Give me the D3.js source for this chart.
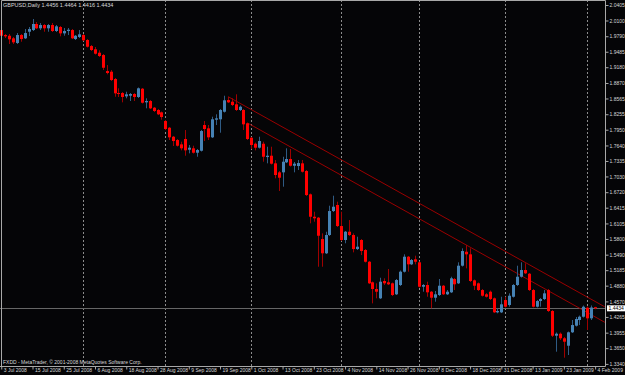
<!DOCTYPE html>
<meta charset="utf-8">
<script src="https://d3js.org/d3.v7.min.js"></script>
<style>
  body { margin: 0; background: #000; }
  svg { display: block; }
  text { font-family: "Liberation Sans", Arial, sans-serif; fill: #d8d8d8; }
</style>
<body>
<svg id="chart" width="625" height="375"></svg>
<script>
// GBPUSD daily bars, 3 Jul 2008 .. 4 Feb 2009
var symbol = "GBPUSD,Daily";
var footer = "FXDD - MetaTrader, \u00a9 2001-2008 MetaQuotes Software Corp.";

var opens = [1.9912,1.9814,1.9800,1.9749,1.9657,1.9814,1.9749,1.9879,1.9912,2.0031,
  1.9946,2.0011,1.9946,2.0011,1.9893,1.9972,1.9847,1.9893,1.9912,1.9735,
  1.9775,1.9814,1.9716,1.9597,1.9533,1.9466,1.9420,1.9105,1.9092,1.8948,
  1.8672,1.8672,1.8607,1.8619,1.8653,1.8594,1.8757,1.8489,1.8515,1.8383,
  1.8338,1.8292,1.8121,1.7989,1.7812,1.7747,1.7662,1.7767,1.7556,1.7584,
  1.7497,1.7536,1.8042,1.7977,1.7800,1.8147,1.8155,1.8304,1.8534,1.8501,
  1.8450,1.8338,1.8338,1.8076,1.7792,1.7674,1.7596,1.7674,1.7412,1.7438,
  1.7288,1.7111,1.7111,1.7308,1.7373,1.7241,1.7235,1.7288,1.7137,1.6678,
  1.6237,1.6218,1.5798,1.5517,1.5877,1.6349,1.6468,1.6054,1.5779,1.5942,
  1.5877,1.5601,1.5779,1.5582,1.5351,1.4946,1.4814,1.4631,1.4972,1.4946,
  1.4926,1.4710,1.4893,1.5155,1.5450,1.5300,1.5399,1.5340,1.4859,1.4893,
  1.4761,1.4643,1.4696,1.4879,1.4710,1.4749,1.5011,1.4926,1.5273,1.5548,
  1.5497,1.4985,1.4926,1.4794,1.4710,1.4761,1.4631,1.4355,1.4355,1.4597,
  1.4499,1.4662,1.4893,1.5056,1.5188,1.5115,1.4794,1.4466,1.4578,1.4617,
  1.4794,1.4381,1.3895,1.3934,1.3844,1.3698,1.3962,1.4092,1.4204,1.4269,
  1.4446,1.4237,1.4456];
var highs = [1.9952,1.9834,1.9834,1.9775,1.9853,1.9834,1.9932,1.9972,2.0129,2.0070,
  2.0050,2.0031,2.0031,2.0050,2.0011,1.9991,1.9952,1.9952,1.9932,1.9814,
  1.9912,1.9834,1.9735,1.9617,1.9578,1.9513,1.9440,1.9223,1.9125,1.8968,
  1.8765,1.8692,1.8698,1.8672,1.8672,1.8781,1.8771,1.8568,1.8534,1.8397,
  1.8357,1.8308,1.8141,1.8003,1.7826,1.7767,1.7714,1.7944,1.7649,1.7635,
  1.7570,1.7944,1.8121,1.8042,1.8206,1.8253,1.8357,1.8619,1.8599,1.8568,
  1.8647,1.8426,1.8357,1.8092,1.7806,1.7698,1.7812,1.7714,1.7615,1.7615,
  1.7353,1.7137,1.7418,1.7584,1.7570,1.7314,1.7353,1.7353,1.7157,1.6694,
  1.6336,1.6231,1.5910,1.5942,1.6454,1.6651,1.6533,1.6336,1.5956,1.6172,
  1.5910,1.5844,1.5798,1.5601,1.5365,1.4962,1.4926,1.5036,1.5025,1.5208,
  1.4942,1.5011,1.5178,1.5497,1.5464,1.5405,1.5470,1.5355,1.4912,1.4958,
  1.4775,1.4775,1.5011,1.4893,1.4794,1.5056,1.5031,1.5340,1.5615,1.5680,
  1.5615,1.5001,1.4942,1.4814,1.4735,1.4784,1.4647,1.4434,1.4662,1.4662,
  1.4729,1.4912,1.5273,1.5340,1.5320,1.5129,1.4814,1.4597,1.4637,1.4794,
  1.4814,1.4401,1.3958,1.3958,1.3869,1.3977,1.4204,1.4263,1.4292,1.4489,
  1.4470,1.4490,1.4464];
var lows = [1.9775,1.9755,1.9637,1.9637,1.9637,1.9682,1.9735,1.9794,1.9893,1.9932,
  1.9912,1.9879,1.9879,1.9873,1.9873,1.9788,1.9800,1.9814,1.9735,1.9716,
  1.9755,1.9696,1.9568,1.9499,1.9430,1.9381,1.9125,1.9040,1.8909,1.8599,
  1.8594,1.8489,1.8568,1.8515,1.8515,1.8574,1.8466,1.8371,1.8357,1.8298,
  1.8239,1.8147,1.7944,1.7747,1.7629,1.7619,1.7544,1.7438,1.7485,1.7481,
  1.7418,1.7521,1.7727,1.7747,1.7786,1.8042,1.7891,1.8288,1.8475,1.8416,
  1.8318,1.8318,1.7944,1.7747,1.7570,1.7544,1.7580,1.7320,1.7288,1.7265,
  1.6993,1.6743,1.6828,1.7294,1.7225,1.7111,1.7157,1.7107,1.6645,1.6107,
  1.6139,1.5253,1.5253,1.5503,1.5857,1.6330,1.6035,1.5759,1.5714,1.5857,
  1.5536,1.5582,1.5483,1.5336,1.4912,1.4532,1.4631,1.4617,1.4893,1.4893,
  1.4676,1.4696,1.4873,1.5139,1.5155,1.5286,1.5300,1.4844,1.4761,1.4662,
  1.4434,1.4564,1.4676,1.4696,1.4696,1.4735,1.4794,1.4912,1.5257,1.5221,
  1.4952,1.4794,1.4775,1.4666,1.4647,1.4597,1.4341,1.4336,1.4341,1.4450,
  1.4466,1.4647,1.4873,1.5040,1.5109,1.4775,1.4450,1.4450,1.4466,1.4597,
  1.4361,1.3869,1.3580,1.3810,1.3462,1.3515,1.3948,1.4076,1.4105,1.4253,
  1.4007,1.4204,1.4416];
var closes = [1.9800,1.9788,1.9729,1.9670,1.9814,1.9735,1.9853,1.9932,2.0031,1.9946,
  2.0011,1.9946,2.0011,1.9893,1.9985,1.9847,1.9893,1.9918,1.9749,1.9800,
  1.9828,1.9710,1.9584,1.9519,1.9446,1.9401,1.9170,1.9066,1.8928,1.8666,
  1.8653,1.8594,1.8647,1.8653,1.8594,1.8765,1.8481,1.8515,1.8371,1.8318,
  1.8253,1.8200,1.7964,1.7800,1.7727,1.7635,1.7584,1.7544,1.7596,1.7497,
  1.7550,1.7924,1.7964,1.7800,1.8155,1.8174,1.8338,1.8529,1.8489,1.8436,
  1.8338,1.8403,1.8056,1.7767,1.7649,1.7596,1.7727,1.7418,1.7438,1.7281,
  1.7058,1.7005,1.7320,1.7373,1.7241,1.7281,1.7294,1.7123,1.6664,1.6237,
  1.6206,1.5863,1.5517,1.5877,1.6349,1.6434,1.6054,1.5779,1.5942,1.5877,
  1.5601,1.5647,1.5562,1.5351,1.4926,1.4814,1.4761,1.4958,1.4926,1.4907,
  1.4696,1.4991,1.5155,1.5450,1.5300,1.5385,1.5351,1.4859,1.4893,1.4749,
  1.4643,1.4710,1.4879,1.4710,1.4761,1.5025,1.4907,1.5273,1.5562,1.5497,
  1.4972,1.4879,1.4794,1.4682,1.4662,1.4617,1.4355,1.4381,1.4513,1.4466,
  1.4682,1.4893,1.5056,1.5188,1.5123,1.4794,1.4466,1.4578,1.4617,1.4729,
  1.4381,1.3895,1.3934,1.3844,1.3777,1.3962,1.4105,1.4224,1.4269,1.4466,
  1.4237,1.4450,1.4434];

// time axis labels (every 8th bar) and month separators (bar index)
var dateLabels = ["3 Jul 2008","15 Jul 2008","25 Jul 2008","6 Aug 2008","18 Aug 2008",
  "28 Aug 2008","9 Sep 2008","19 Sep 2008","1 Oct 2008","13 Oct 2008","23 Oct 2008",
  "4 Nov 2008","14 Nov 2008","26 Nov 2008","8 Dec 2008","18 Dec 2008","31 Dec 2008",
  "13 Jan 2009","23 Jan 2009","4 Feb 2009"];
var dateLabelBars = [0,8,16,24,32,40,48,56,64,72,80,88,96,104,112,120,128,136,144,152];
var monthStarts = [21,42,64,87,107,129,150];

var priceTicks = [2.0405,2.0100,1.9790,1.9485,1.9180,1.8870,1.8565,1.8255,1.7950,1.7640,
  1.7335,1.7030,1.6720,1.6415,1.6105,1.5800,1.5490,1.5185,1.4880,1.4570,1.4265,
  1.3955,1.3650,1.3340];
var lastPrice = 1.4434;

// trend channel, [bar, price] end points
var upperLine = [[58.1, 1.8599], [154.5, 1.4462]];
var lowerLine = [[63.2, 1.8076], [154.5, 1.4158]];

var W = 625, H = 375;
var plotRight = 605, plotBottom = 366;

var svg = d3.select("#chart");
svg.append("rect").attr("width", W).attr("height", H).attr("fill", "#050507");

var x = d3.scaleLinear().domain([0, 152]).range([1.25, 1.25 + 152 * 3.907]);
var y = d3.scaleLinear().domain([1.3340, 2.0405]).range([363.9, 5]);

svg.append("clipPath").attr("id", "plot")
  .append("rect").attr("x", 0).attr("y", 0).attr("width", plotRight).attr("height", plotBottom);

var plot = svg.append("g").attr("clip-path", "url(#plot)");

// month separators
plot.selectAll("line.sep").data(monthStarts).enter().append("line")
  .attr("class", "sep")
  .attr("x1", d => Math.round(x(d)) + 0.5).attr("x2", d => Math.round(x(d)) + 0.5)
  .attr("y1", 0).attr("y2", plotBottom)
  .attr("stroke", "#8c8c8c").attr("stroke-width", 1).attr("stroke-dasharray", "2,2");

// last price line
plot.append("line")
  .attr("x1", 0).attr("x2", plotRight)
  .attr("y1", Math.round(y(lastPrice)) + 0.5).attr("y2", Math.round(y(lastPrice)) + 0.5)
  .attr("stroke", "#666");

// trend lines
var tl = d3.line().x(d => x(d[0])).y(d => y(d[1]));
[upperLine, lowerLine].forEach(function(l) {
  plot.append("path").datum(l).attr("d", tl)
    .attr("fill", "none").attr("stroke", "#9a0000").attr("stroke-width", 1);
});

// candles
var bars = opens.map(function(o, i) {
  return {i: i, o: o, h: highs[i], l: lows[i], c: closes[i]};
});
var cg = plot.selectAll("g.bar").data(bars).enter().append("g").attr("class", "bar");
cg.append("line")
  .attr("x1", d => Math.round(x(d.i)) + 0.5).attr("x2", d => Math.round(x(d.i)) + 0.5)
  .attr("y1", d => y(d.h)).attr("y2", d => y(d.l))
  .attr("stroke", d => d.c >= d.o ? "#2f5b84" : "#a00000")
  .attr("stroke-width", 1);
cg.append("rect")
  .attr("x", d => Math.round(x(d.i)) - 1)
  .attr("width", 3)
  .attr("y", d => y(Math.max(d.o, d.c)))
  .attr("height", d => Math.max(1, Math.abs(y(d.o) - y(d.c))))
  .attr("fill", d => d.c >= d.o ? "#4682b4" : "#ff0000");

// frame
svg.append("path")
  .attr("d", "M1.5," + plotBottom + "V0.5H" + (plotRight + 0.5) + "V" + (plotBottom + 0.5) + "H0")
  .attr("fill", "none").attr("stroke", "#a8a8a8");

// price axis
var ya = svg.append("g").attr("transform", "translate(" + (plotRight + 0.5) + ",0)")
  .call(d3.axisRight(y).tickValues(priceTicks).tickSize(3).tickSizeOuter(0)
    .tickFormat(d3.format(".4f")));
ya.select(".domain").remove();
ya.selectAll("line").attr("stroke", "#a8a8a8");
ya.selectAll("text").attr("x", 4).attr("fill", "#d8d8d8").style("font-size", "5px")
  .attr("font-family", null);

// last price box
var ly = y(lastPrice);
svg.append("rect").attr("x", plotRight + 2).attr("y", ly - 3).attr("width", 18).attr("height", 6)
  .attr("fill", "#ffffff");
svg.append("text").attr("x", plotRight + 3.5).attr("y", ly).attr("dy", "0.34em")
  .style("font-size", "5px").style("fill", "#000").text(d3.format(".4f")(lastPrice));

// time axis
var xa = svg.append("g").attr("transform", "translate(0," + (plotBottom + 0.5) + ")")
  .call(d3.axisBottom(x).tickValues(dateLabelBars).tickSize(3).tickSizeOuter(0)
    .tickFormat((d, i) => dateLabels[i]));
xa.select(".domain").remove();
xa.selectAll("line").attr("stroke", "#a8a8a8");
xa.selectAll("text").attr("text-anchor", "start").attr("x", 2).attr("y", 1.5)
  .attr("fill", "#d8d8d8").style("font-size", "5px").attr("font-family", null);

// title and footer
svg.append("text").attr("x", 3).attr("y", 7).style("font-size", "5.5px")
  .text(symbol + "  " + [opens[152], highs[152], lows[152], closes[152]].map(d3.format(".4f")).join(" "));
svg.append("text").attr("x", 3).attr("y", 364).style("font-size", "5px").text(footer);
</script>
</body>
